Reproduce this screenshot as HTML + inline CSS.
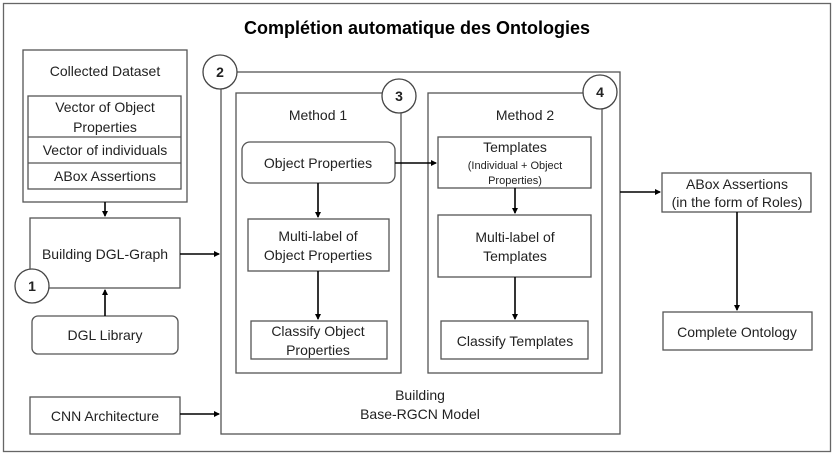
<!DOCTYPE html>
<html><head><meta charset="utf-8"><style>
body{margin:0;background:#fff}
svg{display:block;font-family:"Liberation Sans",sans-serif}
text{fill:#222;font-size:14px;text-anchor:middle}
.b{fill:#fff;stroke:#555;stroke-width:1.3}
.a{stroke:#000;stroke-width:1.6;fill:none}
.c{fill:#fff;stroke:#444;stroke-width:1.3}
.n{font-weight:bold;font-size:14px}
</style></head><body>
<svg width="834" height="455" viewBox="0 0 834 455">
<defs><marker id="m" markerWidth="6" markerHeight="6" refX="5" refY="3" orient="auto" markerUnits="userSpaceOnUse"><path d="M0,0 L6,3 L0,6z" fill="#000"/></marker></defs>
<rect x="3.5" y="3.5" width="827" height="448" fill="#fff" stroke="#666" stroke-width="1.3"/>
<text x="417" y="34" style="font-weight:bold;font-size:18px;fill:#000">Complétion automatique des Ontologies</text>

<rect class="b" x="23" y="50" width="164" height="152"/>
<text x="105" y="76">Collected Dataset</text>
<rect class="b" x="28" y="96" width="153" height="93"/>
<line x1="28" y1="137" x2="181" y2="137" stroke="#555" stroke-width="1.3"/>
<line x1="28" y1="163" x2="181" y2="163" stroke="#555" stroke-width="1.3"/>
<text x="105" y="112">Vector of Object</text>
<text x="105" y="132">Properties</text>
<text x="105" y="155">Vector of individuals</text>
<text x="105" y="181">ABox Assertions</text>

<line class="a" x1="105" y1="202" x2="105" y2="216" marker-end="url(#m)"/>
<rect class="b" x="30" y="218" width="150" height="70"/>
<text x="105" y="259">Building DGL-Graph</text>
<circle class="c" cx="32" cy="286" r="17"/><text class="n" x="32" y="291">1</text>
<rect class="b" x="32" y="316" width="146" height="38" rx="6"/>
<text x="105" y="340">DGL Library</text>
<line class="a" x1="105" y1="316" x2="105" y2="290" marker-end="url(#m)"/>
<line class="a" x1="180" y1="254" x2="219" y2="254" marker-end="url(#m)"/>

<rect class="b" x="221" y="72" width="399" height="362"/>
<circle class="c" cx="220" cy="72" r="17"/><text class="n" x="220" y="77">2</text>
<text x="420" y="400">Building</text>
<text x="420" y="419">Base-RGCN Model</text>

<rect class="b" x="236" y="93" width="165" height="280"/>
<circle class="c" cx="399" cy="96" r="17"/><text class="n" x="399" y="101">3</text>
<text x="318" y="120">Method 1</text>
<rect class="b" x="242" y="142" width="153" height="41" rx="8"/>
<text x="318" y="168">Object Properties</text>
<line class="a" x1="318" y1="183" x2="318" y2="217" marker-end="url(#m)"/>
<rect class="b" x="248" y="219" width="141" height="52"/>
<text x="318" y="241">Multi-label of</text>
<text x="318" y="260">Object Properties</text>
<line class="a" x1="318" y1="271" x2="318" y2="319" marker-end="url(#m)"/>
<rect class="b" x="251" y="321" width="136" height="38"/>
<text x="318" y="336">Classify Object</text>
<text x="318" y="355">Properties</text>

<rect class="b" x="428" y="93" width="174" height="280"/>
<circle class="c" cx="600" cy="92" r="17"/><text class="n" x="600" y="97">4</text>
<text x="525" y="120">Method 2</text>
<line class="a" x1="395" y1="163" x2="436" y2="163" marker-end="url(#m)"/>
<rect class="b" x="438" y="137" width="153" height="51"/>
<text x="515" y="152">Templates</text>
<text x="515" y="169" style="font-size:11px">(Individual + Object</text>
<text x="515" y="184" style="font-size:11px">Properties)</text>
<line class="a" x1="515" y1="188" x2="515" y2="213" marker-end="url(#m)"/>
<rect class="b" x="438" y="215" width="153" height="62"/>
<text x="515" y="242">Multi-label of</text>
<text x="515" y="261">Templates</text>
<line class="a" x1="515" y1="277" x2="515" y2="319" marker-end="url(#m)"/>
<rect class="b" x="441" y="321" width="147" height="38"/>
<text x="515" y="346">Classify Templates</text>

<line class="a" x1="620" y1="192" x2="660" y2="192" marker-end="url(#m)"/>
<rect class="b" x="662" y="173" width="149" height="39"/>
<text x="737" y="189">ABox Assertions</text>
<text x="737" y="207">(in the form of Roles)</text>
<line class="a" x1="737" y1="212" x2="737" y2="310" marker-end="url(#m)"/>
<rect class="b" x="663" y="312" width="149" height="38"/>
<text x="737" y="337">Complete Ontology</text>

<rect class="b" x="30" y="397" width="150" height="37"/>
<text x="105" y="421">CNN Architecture</text>
<line class="a" x1="180" y1="414" x2="219" y2="414" marker-end="url(#m)"/>
</svg>
</body></html>
